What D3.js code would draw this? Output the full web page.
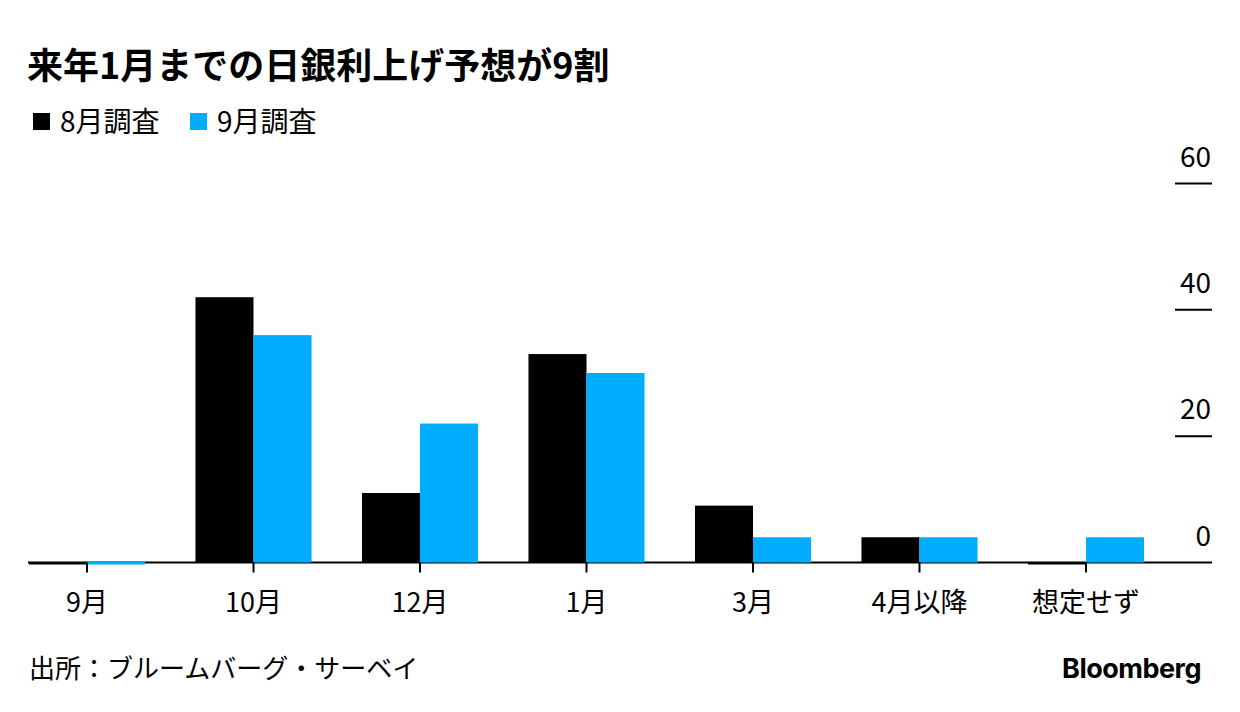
<!DOCTYPE html>
<html>
<head>
<meta charset="utf-8">
<script src="https://d3js.org/d3.v7.min.js"></script>
<style>
  body { margin: 0; background: #fff; }
  text { font-family: "Noto Sans CJK JP", "Noto Sans", sans-serif; fill: #000; }
</style>
</head>
<body>
<div id="chart"></div>
<script>
// data
var categories = ["9月", "10月", "12月", "1月", "3月", "4月以降", "想定せず"];
var seriesNames = ["8月調査", "9月調査"];
var augValues = [0, 42, 11, 33, 9, 4, 0];
var sepValues = [0, 36, 22, 30, 4, 4, 4];
var yTicks = [0, 20, 40, 60];
var colors = ["#000000", "#00adff"];

var W = 1240, H = 712;

var svg = d3.select("#chart")
  .append("svg")
    .attr("width", W)
    .attr("height", H);

// title
svg.append("text")
  .attr("x", 27)
  .attr("y", 79)
  .style("font-size", "36px")
  .style("font-weight", "bold")
  .text("来年1月までの日銀利上げ予想が9割");

// legend
seriesNames.forEach(function(name, i) {
  var lx = [33, 190][i];
  svg.append("rect")
    .attr("x", lx).attr("y", 113)
    .attr("width", 17).attr("height", 17)
    .attr("fill", colors[i]);
  svg.append("text")
    .attr("x", lx + 27)
    .attr("y", 132)
    .style("font-size", "28px")
    .text(name);
});

// scales
var x = d3.scaleBand()
  .domain(categories)
  .range([3.75, 1169.25])
  .paddingInner(0.303)
  .paddingOuter(0.1515);

var x1 = d3.scaleBand()
  .domain(seriesNames)
  .range([0, x.bandwidth()]);

var y = d3.scaleLinear()
  .domain([0, 60])
  .range([562.5, 183.5]);

// y ticks on the right
var yg = svg.append("g");
yTicks.forEach(function(t) {
  if (t > 0) {
    yg.append("line")
      .attr("x1", 1175).attr("x2", 1212)
      .attr("y1", y(t)).attr("y2", y(t))
      .attr("stroke", "#000").attr("stroke-width", 2);
  }
  yg.append("text")
    .attr("x", 1211)
    .attr("y", y(t) - 17)
    .attr("text-anchor", "end")
    .style("font-size", "28px")
    .text(t);
});

// baseline
svg.append("line")
  .attr("x1", 28).attr("x2", 1212)
  .attr("y1", y(0)).attr("y2", y(0))
  .attr("stroke", "#000").attr("stroke-width", 2);

// bars (zero values drawn as a thin strip over the baseline)
var rows = categories.map(function(c, i) {
  return {cat: c, vals: [augValues[i], sepValues[i]]};
});

var groups = svg.selectAll(".grp")
  .data(rows)
  .enter()
  .append("g")
    .attr("transform", function(d) { return "translate(" + x(d.cat) + ",0)"; });

groups.selectAll("rect")
  .data(function(d) { return d.vals.map(function(v, i) { return {s: seriesNames[i], v: v, i: i}; }); })
  .enter()
  .append("rect")
    .attr("x", function(d) { return x1(d.s); })
    .attr("width", x1.bandwidth())
    .attr("y", function(d) { return d.v > 0 ? y(d.v) : y(0) - 0.5; })
    .attr("height", function(d) { return d.v > 0 ? y(0) - y(d.v) : 2.5; })
    .attr("fill", function(d) { return colors[d.i]; });

// x axis ticks and labels
var xAxis = svg.append("g")
  .attr("transform", "translate(0," + y(0) + ")")
  .call(d3.axisBottom(x).tickSize(10).tickPadding(20));
xAxis.select(".domain").remove();
xAxis.selectAll(".tick line").attr("stroke", "#000").attr("stroke-width", 2);
xAxis.selectAll(".tick text")
  .style("font-size", "27px")
  .style("font-family", "'Noto Sans CJK JP', sans-serif")
  .attr("fill", "#000");

// source
svg.append("text")
  .attr("x", 29)
  .attr("y", 678)
  .style("font-size", "26px")
  .text("出所：ブルームバーグ・サーベイ");

svg.append("text")
  .attr("x", 1201)
  .attr("y", 678)
  .attr("text-anchor", "end")
  .style("font-family", "Inter, 'Noto Sans', sans-serif")
  .style("font-size", "27px")
  .style("font-weight", "bold")
  .style("letter-spacing", "-0.5px")
  .text("Bloomberg");
</script>
</body>
</html>
